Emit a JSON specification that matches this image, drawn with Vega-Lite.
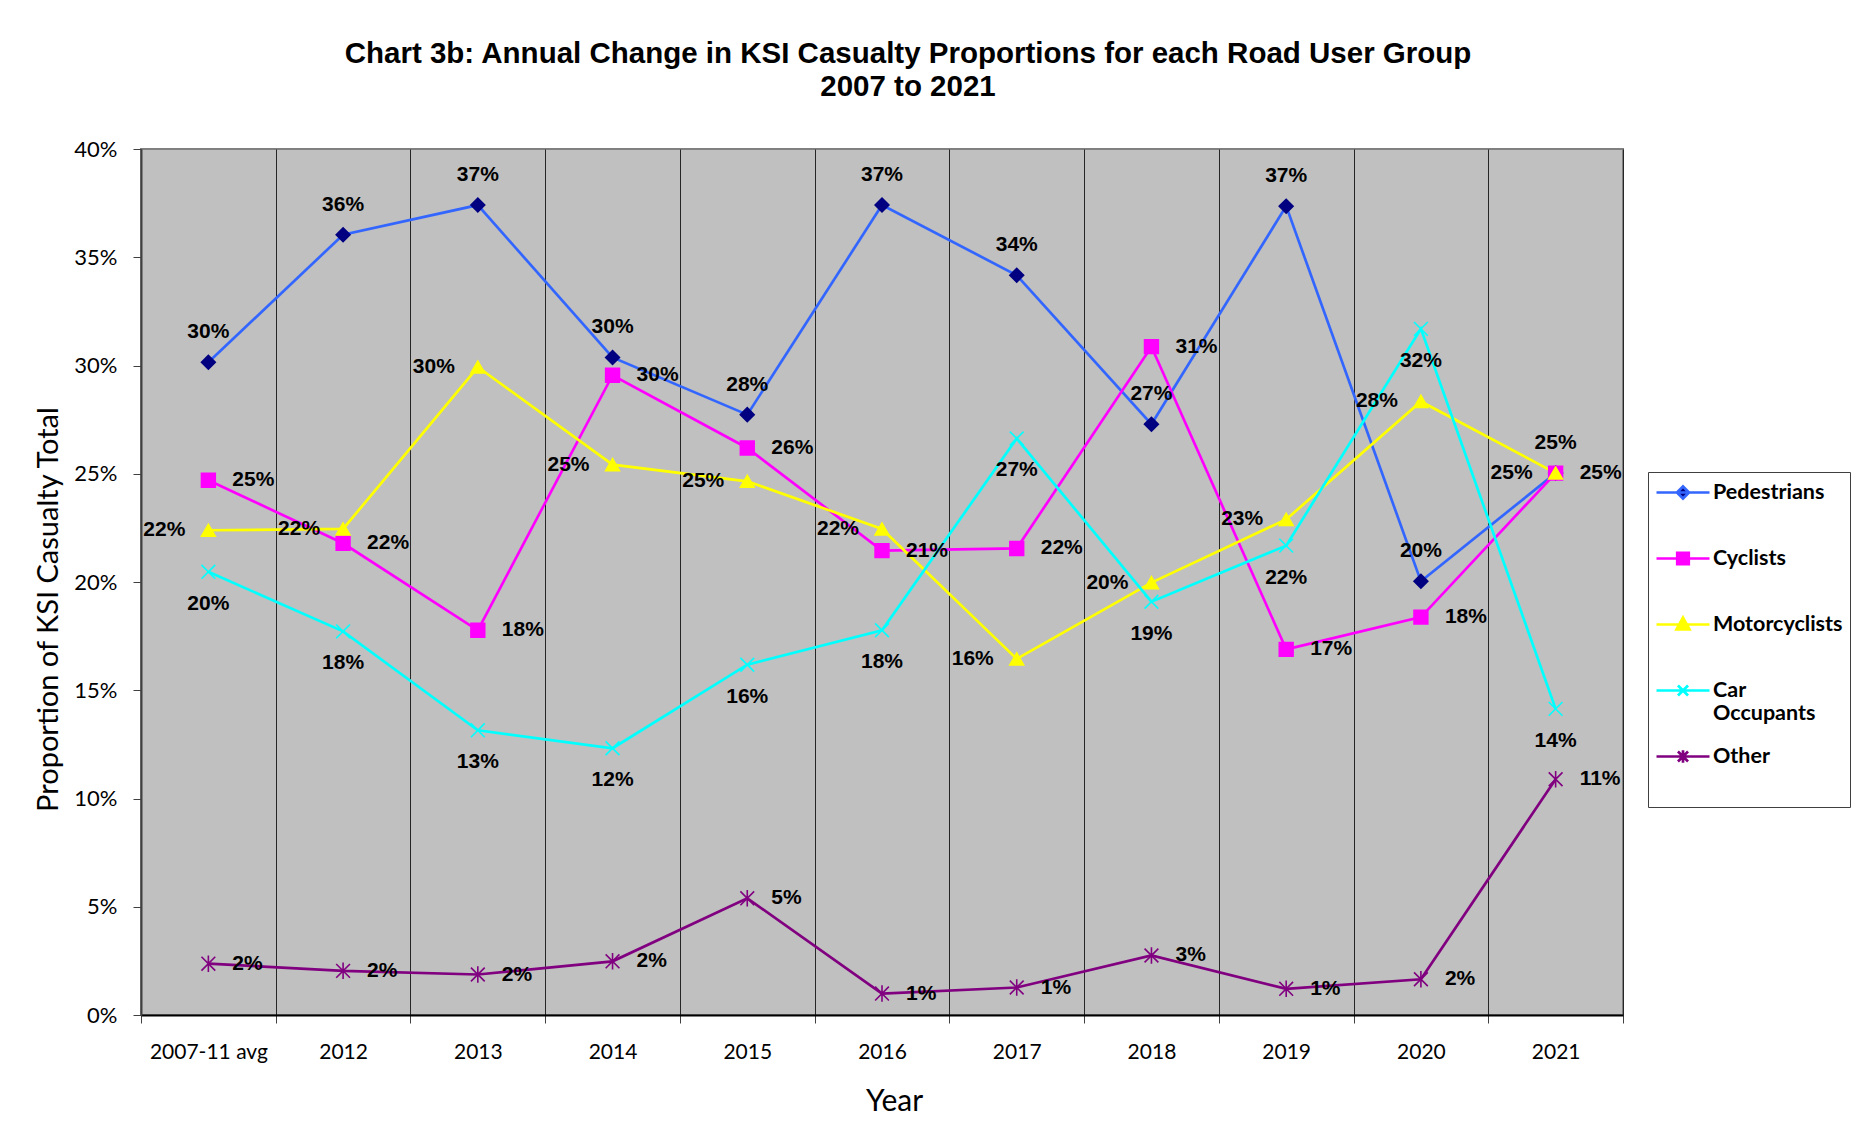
{
  "$schema": "https://vega.github.io/schema/vega-lite/v6.json",
  "width": 1482,
  "height": 866,
  "autosize": {"type": "none"},
  "padding": {"left": 141, "top": 149, "right": 247, "bottom": 121},
  "background": "white",
  "title": {
    "text": ["Chart 3b: Annual Change in KSI Casualty Proportions for each Road User Group", "2007 to 2021"],
    "font": "Liberation Sans",
    "fontSize": 29.5,
    "fontWeight": "bold",
    "color": "black",
    "anchor": "middle",
    "frame": "group",
    "dx": 26,
    "offset": 36,
    "lineHeight": 33
  },
  "config": {
    "view": {"fill": "#C0C0C0", "stroke": "#808080", "strokeWidth": 2}
  },
  "data": {
    "values": [
      {"year": "2007-11 avg", "group": "Pedestrians", "value": 0.3015},
      {"year": "2012", "group": "Pedestrians", "value": 0.3604},
      {"year": "2013", "group": "Pedestrians", "value": 0.3741},
      {"year": "2014", "group": "Pedestrians", "value": 0.3037},
      {"year": "2015", "group": "Pedestrians", "value": 0.2773},
      {"year": "2016", "group": "Pedestrians", "value": 0.3741},
      {"year": "2017", "group": "Pedestrians", "value": 0.3417},
      {"year": "2018", "group": "Pedestrians", "value": 0.2729},
      {"year": "2019", "group": "Pedestrians", "value": 0.3736},
      {"year": "2020", "group": "Pedestrians", "value": 0.2003},
      {"year": "2021", "group": "Pedestrians", "value": 0.2503},
      {"year": "2007-11 avg", "group": "Cyclists", "value": 0.247},
      {"year": "2012", "group": "Cyclists", "value": 0.2179},
      {"year": "2013", "group": "Cyclists", "value": 0.1777},
      {"year": "2014", "group": "Cyclists", "value": 0.2955},
      {"year": "2015", "group": "Cyclists", "value": 0.2619},
      {"year": "2016", "group": "Cyclists", "value": 0.2145},
      {"year": "2017", "group": "Cyclists", "value": 0.2155},
      {"year": "2018", "group": "Cyclists", "value": 0.3087},
      {"year": "2019", "group": "Cyclists", "value": 0.1689},
      {"year": "2020", "group": "Cyclists", "value": 0.1838},
      {"year": "2021", "group": "Cyclists", "value": 0.2503},
      {"year": "2007-11 avg", "group": "Motorcyclists", "value": 0.2239},
      {"year": "2012", "group": "Motorcyclists", "value": 0.2245},
      {"year": "2013", "group": "Motorcyclists", "value": 0.2993},
      {"year": "2014", "group": "Motorcyclists", "value": 0.2542},
      {"year": "2015", "group": "Motorcyclists", "value": 0.2465},
      {"year": "2016", "group": "Motorcyclists", "value": 0.2245},
      {"year": "2017", "group": "Motorcyclists", "value": 0.1645},
      {"year": "2018", "group": "Motorcyclists", "value": 0.1997},
      {"year": "2019", "group": "Motorcyclists", "value": 0.2289},
      {"year": "2020", "group": "Motorcyclists", "value": 0.2834},
      {"year": "2021", "group": "Motorcyclists", "value": 0.2503},
      {"year": "2007-11 avg", "group": "Car Occupants", "value": 0.2047},
      {"year": "2012", "group": "Car Occupants", "value": 0.1772},
      {"year": "2013", "group": "Car Occupants", "value": 0.1315},
      {"year": "2014", "group": "Car Occupants", "value": 0.1232},
      {"year": "2015", "group": "Car Occupants", "value": 0.1618},
      {"year": "2016", "group": "Car Occupants", "value": 0.1777},
      {"year": "2017", "group": "Car Occupants", "value": 0.2663},
      {"year": "2018", "group": "Car Occupants", "value": 0.1909},
      {"year": "2019", "group": "Car Occupants", "value": 0.2168},
      {"year": "2020", "group": "Car Occupants", "value": 0.3169},
      {"year": "2021", "group": "Car Occupants", "value": 0.1414},
      {"year": "2007-11 avg", "group": "Other", "value": 0.0237},
      {"year": "2012", "group": "Other", "value": 0.0204},
      {"year": "2013", "group": "Other", "value": 0.0187},
      {"year": "2014", "group": "Other", "value": 0.0248},
      {"year": "2015", "group": "Other", "value": 0.0539},
      {"year": "2016", "group": "Other", "value": 0.0099},
      {"year": "2017", "group": "Other", "value": 0.0127},
      {"year": "2018", "group": "Other", "value": 0.0275},
      {"year": "2019", "group": "Other", "value": 0.0121},
      {"year": "2020", "group": "Other", "value": 0.0165},
      {"year": "2021", "group": "Other", "value": 0.1089}
    ]
  },
  "encoding": {
    "x": {
      "field": "year",
      "type": "nominal",
      "scale": {
        "type": "band",
        "domain": ["2007-11 avg", "2012", "2013", "2014", "2015", "2016", "2017", "2018", "2019", "2020", "2021"],
        "paddingInner": 0,
        "paddingOuter": 0
      },
      "axis": {
        "title": "Year",
        "titleFont": "Lato",
        "titleFontSize": 30,
        "titleFontWeight": "normal",
        "titleColor": "black",
        "titlePadding": 24,
        "titleX": 753,
        "labelFont": "Lato",
        "labelFontSize": 21,
        "labelColor": "black",
        "labelAngle": 0,
        "labelPadding": 18,
        "tickBand": "extent",
        "tickSize": 8,
        "tickColor": "#404040",
        "domainColor": "#000000",
        "domainWidth": 2,
        "grid": true,
        "gridColor": "#262626",
        "gridWidth": 1
      }
    },
    "y": {
      "field": "value",
      "type": "quantitative",
      "scale": {"domain": [0, 0.4], "nice": false},
      "axis": {
        "title": "Proportion of KSI Casualty Total",
        "titleFont": "Lato",
        "titleFontSize": 29,
        "titleFontWeight": "normal",
        "titleColor": "black",
        "titlePadding": 10,
        "titleY": 460,
        "values": [0, 0.05, 0.1, 0.15, 0.2, 0.25, 0.3, 0.35, 0.4],
        "format": ".0%",
        "labelFont": "Lato",
        "labelFontSize": 22,
        "labelColor": "black",
        "labelPadding": 16,
        "tickSize": 8,
        "tickColor": "#404040",
        "domainColor": "#404040",
        "domainWidth": 2,
        "grid": false
      }
    }
  },
  "layer": [
    {
      "mark": {"type": "line", "strokeWidth": 2.7},
      "encoding": {
        "color": {
          "field": "group",
          "type": "nominal",
          "scale": {
            "domain": ["Pedestrians", "Cyclists", "Motorcyclists", "Car Occupants", "Other"],
            "range": ["#3366FF", "#FF00FF", "#FFFF00", "#00FFFF", "#800080"]
          },
          "legend": null
        }
      }
    },
    {
      "mark": {"type": "point", "filled": true, "size": 190, "strokeWidth": 1.6, "opacity": 1},
      "encoding": {
        "shape": {
          "field": "group",
          "type": "nominal",
          "scale": {
            "domain": ["Pedestrians", "Cyclists", "Motorcyclists", "Car Occupants", "Other"],
            "range": ["diamond", "square", "triangle-up", "M-1,-1L1,1M-1,1L1,-1", "M-1,-1L1,1M-1,1L1,-1M0,-1.2L0,1.2"]
          },
          "legend": null
        },
        "fill": {
          "field": "group",
          "type": "nominal",
          "scale": {
            "domain": ["Pedestrians", "Cyclists", "Motorcyclists", "Car Occupants", "Other"],
            "range": ["#000080", "#FF00FF", "#FFFF00", "#00FFFF", "#800080"]
          },
          "legend": null
        },
        "stroke": {
          "field": "group",
          "type": "nominal",
          "scale": {
            "domain": ["Pedestrians", "Cyclists", "Motorcyclists", "Car Occupants", "Other"],
            "range": ["#000080", "#FF00FF", "#FFFF00", "#00FFFF", "#800080"]
          },
          "legend": null
        }
      }
    },
    {
      "transform": [{"filter": "datum.group == 'Pedestrians'"}],
      "mark": {"type": "text", "font": "Liberation Sans", "fontSize": 21, "fontWeight": "bold", "color": "black", "align": "center", "baseline": "middle", "dy": -30},
      "encoding": {"text": {"field": "value", "type": "quantitative", "format": ".0%"}}
    },
    {
      "transform": [{"filter": "datum.group == 'Cyclists'"}],
      "mark": {"type": "text", "font": "Liberation Sans", "fontSize": 21, "fontWeight": "bold", "color": "black", "align": "left", "baseline": "middle", "dx": 24},
      "encoding": {"text": {"field": "value", "type": "quantitative", "format": ".0%"}}
    },
    {
      "transform": [{"filter": "datum.group == 'Motorcyclists'"}],
      "mark": {"type": "text", "font": "Liberation Sans", "fontSize": 21, "fontWeight": "bold", "color": "black", "align": "right", "baseline": "middle", "dx": -23},
      "encoding": {"text": {"field": "value", "type": "quantitative", "format": ".0%"}}
    },
    {
      "transform": [{"filter": "datum.group == 'Car Occupants'"}],
      "mark": {"type": "text", "font": "Liberation Sans", "fontSize": 21, "fontWeight": "bold", "color": "black", "align": "center", "baseline": "middle", "dy": 32},
      "encoding": {"text": {"field": "value", "type": "quantitative", "format": ".0%"}}
    },
    {
      "transform": [{"filter": "datum.group == 'Other'"}],
      "mark": {"type": "text", "font": "Liberation Sans", "fontSize": 21, "fontWeight": "bold", "color": "black", "align": "left", "baseline": "middle", "dx": 24},
      "encoding": {"text": {"field": "value", "type": "quantitative", "format": ".0%"}}
    },
    {
      "mark": {"type": "point", "filled": true, "opacity": 0, "size": 10, "strokeWidth": 2.7},
      "encoding": {
        "shape": {
          "field": "group",
          "type": "nominal",
          "scale": {
            "domain": ["Pedestrians", "Cyclists", "Motorcyclists", "Car Occupants", "Other"],
            "range": [
              "M1.208,3.17L1.208,3.17M-1,0L3.417,0M0.708,0L1.208,-0.5L1.708,0L1.208,0.5Z",
              "M1.208,3.17L1.208,3.17M-1,0L3.417,0M0.728,-0.48L1.688,-0.48L1.688,0.48L0.728,0.48Z",
              "M1.208,3.17L1.208,3.17M-1,0L3.417,0M1.208,-0.58L1.748,0.4L0.668,0.4Z",
              "M1.208,3.17L1.208,3.17M-1,0L3.417,0M0.788,-0.42L1.628,0.42M0.788,0.42L1.628,-0.42",
              "M1.208,3.17L1.208,3.17M-1,0L3.417,0M0.788,-0.42L1.628,0.42M0.788,0.42L1.628,-0.42M1.208,-0.52L1.208,0.52"
            ]
          },
          "legend": {
            "title": null, "orient": "none", "legendX": 1507, "legendY": 323,
            "symbolSize": 576, "symbolStrokeWidth": 2.7, "symbolOpacity": 1,
            "labelFont": "Lato", "labelFontSize": 21.5, "labelFontWeight": "bold", "labelColor": "black",
            "labelOffset": 31, "rowPadding": 9, "padding": 7, "strokeColor": "#404040", "fillColor": "white",
            "labelLimit": 300,
            "labelExpr": "datum.label == 'Car Occupants' ? ['Car', 'Occupants'] : datum.label"
          }
        },
        "fill": {
          "field": "group",
          "type": "nominal",
          "scale": {
            "domain": ["Pedestrians", "Cyclists", "Motorcyclists", "Car Occupants", "Other"],
            "range": ["#000080", "#FF00FF", "#FFFF00", "#00FFFF", "#800080"]
          },
          "legend": {
            "title": null, "orient": "none", "legendX": 1507, "legendY": 323,
            "symbolSize": 576, "symbolStrokeWidth": 2.7, "symbolOpacity": 1,
            "labelFont": "Lato", "labelFontSize": 21.5, "labelFontWeight": "bold", "labelColor": "black",
            "labelOffset": 31, "rowPadding": 9, "padding": 7, "strokeColor": "#404040", "fillColor": "white",
            "labelLimit": 300,
            "labelExpr": "datum.label == 'Car Occupants' ? ['Car', 'Occupants'] : datum.label"
          }
        },
        "stroke": {
          "field": "group",
          "type": "nominal",
          "scale": {
            "domain": ["Pedestrians", "Cyclists", "Motorcyclists", "Car Occupants", "Other"],
            "range": ["#3366FF", "#FF00FF", "#FFFF00", "#00FFFF", "#800080"]
          },
          "legend": {
            "title": null, "orient": "none", "legendX": 1507, "legendY": 323,
            "symbolSize": 576, "symbolStrokeWidth": 2.7, "symbolOpacity": 1,
            "labelFont": "Lato", "labelFontSize": 21.5, "labelFontWeight": "bold", "labelColor": "black",
            "labelOffset": 31, "rowPadding": 9, "padding": 7, "strokeColor": "#404040", "fillColor": "white",
            "labelLimit": 300,
            "labelExpr": "datum.label == 'Car Occupants' ? ['Car', 'Occupants'] : datum.label"
          }
        }
      }
    }
  ],
  "resolve": {"scale": {"shape": "independent", "fill": "independent", "stroke": "independent"}}
}
